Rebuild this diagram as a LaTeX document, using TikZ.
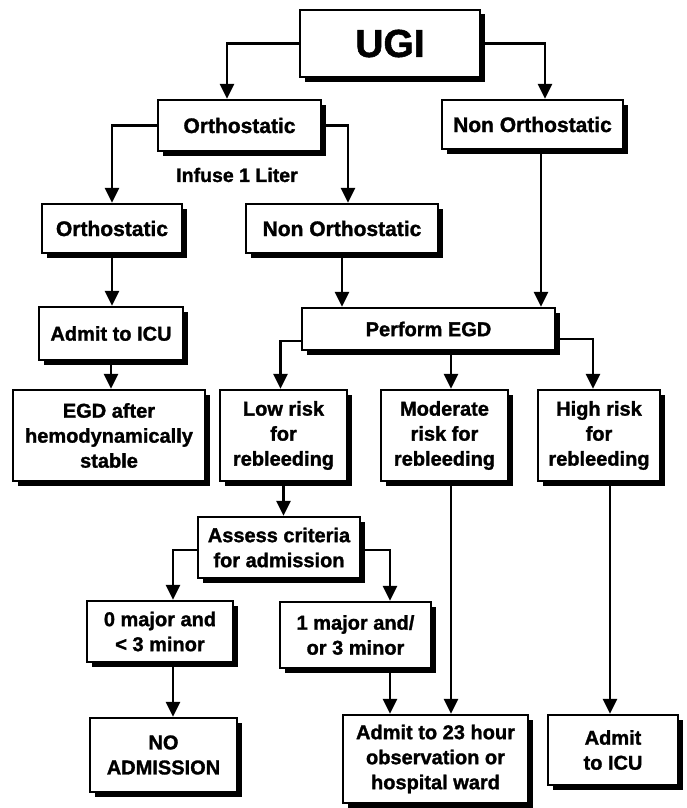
\documentclass[tikz,border=0pt]{standalone}
\usepackage{fontspec}
\setmainfont{Liberation Sans}[BoldFeatures={FakeBold=1.4}]
\usepackage{tikz}
\usetikzlibrary{positioning,arrows.meta,calc,shadows}

\tikzset{
  flowbox/.style={draw, line width=2.4pt, fill=white, inner sep=0pt, align=center,
    font=\bfseries\fontsize{20}{25}\selectfont,
    drop shadow={shadow xshift=4.5pt, shadow yshift=-4.5pt, fill=black, opacity=1}},
  flowarrow/.style={line width=2.8pt, -{Triangle[length=15pt,width=14pt]}},
}

\begin{document}
\begin{tikzpicture}[x=1pt,y=-1pt]
    \useasboundingbox (0,0) rectangle (687,808);
    \node[flowbox, font=\bfseries\fontsize{39}{40}\selectfont, minimum width=180pt, minimum height=67pt] (ugi) at (390,43.5) {UGI};
    \node[flowbox, font=\bfseries\fontsize{21}{25}\selectfont, minimum width=163pt, minimum height=51pt] (orth) at (239.5,125.5) {Orthostatic};
    \node[flowbox, font=\bfseries\fontsize{21}{25}\selectfont, minimum width=181pt, minimum height=49pt] (nonorth) at (532.5,124.5) {Non Orthostatic};
    \node[font=\bfseries\fontsize{19.5}{22}\selectfont] (infuse) at (237,175) {Infuse 1 Liter};
    \node[flowbox, font=\bfseries\fontsize{21}{25}\selectfont, minimum width=140pt, minimum height=49pt] (orthb) at (112,228.5) {Orthostatic};
    \node[flowbox, font=\bfseries\fontsize{21}{25}\selectfont, minimum width=192pt, minimum height=49pt] (nonorthb) at (342,228.5) {Non Orthostatic};
    \node[flowbox, minimum width=144pt, minimum height=53pt] (icu) at (111,333.5) {Admit to ICU};
    \node[flowbox, minimum width=253pt, minimum height=42pt] (egd) at (428.5,329) {Perform EGD};
    \node[flowbox, minimum width=192pt, minimum height=91pt] (egdafter) at (109,435.5) {EGD after\\hemodynamically\\stable};
    \node[flowbox, minimum width=127pt, minimum height=91pt] (low) at (283.5,435.5) {Low risk\\for\\rebleeding};
    \node[flowbox, minimum width=127pt, minimum height=91pt] (moderate) at (444.5,435.5) {Moderate\\risk for\\rebleeding};
    \node[flowbox, minimum width=122pt, minimum height=91pt] (high) at (599,435.5) {High risk\\for\\rebleeding};
    \node[flowbox, minimum width=162pt, minimum height=61pt] (assess) at (279,547.5) {Assess criteria\\for admission};
    \node[flowbox, minimum width=146pt, minimum height=61pt] (zero) at (160,631.5) {0 major and\\< 3 minor};
    \node[flowbox, minimum width=151pt, minimum height=66pt] (one) at (355.5,635) {1 major and/\\or 3 minor};
    \node[flowbox, minimum width=147pt, minimum height=74pt] (noadm) at (163.5,755) {NO\\ADMISSION};
    \node[flowbox, minimum width=185pt, minimum height=88pt] (ward) at (435.5,759) {Admit to 23 hour\\observation or\\hospital ward};
    \node[flowbox, minimum width=130pt, minimum height=70pt] (icub) at (613,750) {Admit\\to ICU};

    \draw[flowarrow] (ugi.west) -| ([xshift=-12.5pt]orth.north);
    \draw[flowarrow] (ugi.east) -| ([xshift=12.5pt]nonorth.north);
    \draw[flowarrow] (orth.west) -| (orthb.north);
    \draw[flowarrow] (orth.east) -| ([xshift=6pt]nonorthb.north);
    \draw[flowarrow] ([xshift=8.5pt]nonorth.south) -- ([xshift=8.5pt]nonorth.south |- egd.north);
    \draw[flowarrow] (nonorthb.south) -- (nonorthb.south |- egd.north);
    \draw[flowarrow] (orthb.south) -- (orthb.south |- icu.north);
    \draw[flowarrow] (icu.south) -- (icu.south |- egdafter.north);
    \draw[flowarrow] ([yshift=-12pt]egd.west) -| ([xshift=-3pt]low.north);
    \draw[flowarrow] ([xshift=22.5pt]egd.south) -- ([xshift=22.5pt]egd.south |- moderate.north);
    \draw[flowarrow] ([yshift=-10pt]egd.east) -| ([xshift=-6pt]high.north);
    \draw[flowarrow] (low.south) -- (low.south |- assess.north);
    \draw[flowarrow] ([yshift=-2.5pt]assess.west) -| ([xshift=13pt]zero.north);
    \draw[flowarrow] ([yshift=-2.5pt]assess.east) -| ([xshift=34.5pt]one.north);
    \draw[flowarrow] ([xshift=13pt]zero.south) -- ([xshift=13pt]zero.south |- noadm.north);
    \draw[flowarrow] ([xshift=34.5pt]one.south) -- ([xshift=34.5pt]one.south |- ward.north);
    \draw[flowarrow] ([xshift=6.5pt]moderate.south) -- ([xshift=6.5pt]moderate.south |- ward.north);
    \draw[flowarrow] ([xshift=11pt]high.south) -- ([xshift=11pt]high.south |- icub.north);
  \end{tikzpicture}
\end{document}
